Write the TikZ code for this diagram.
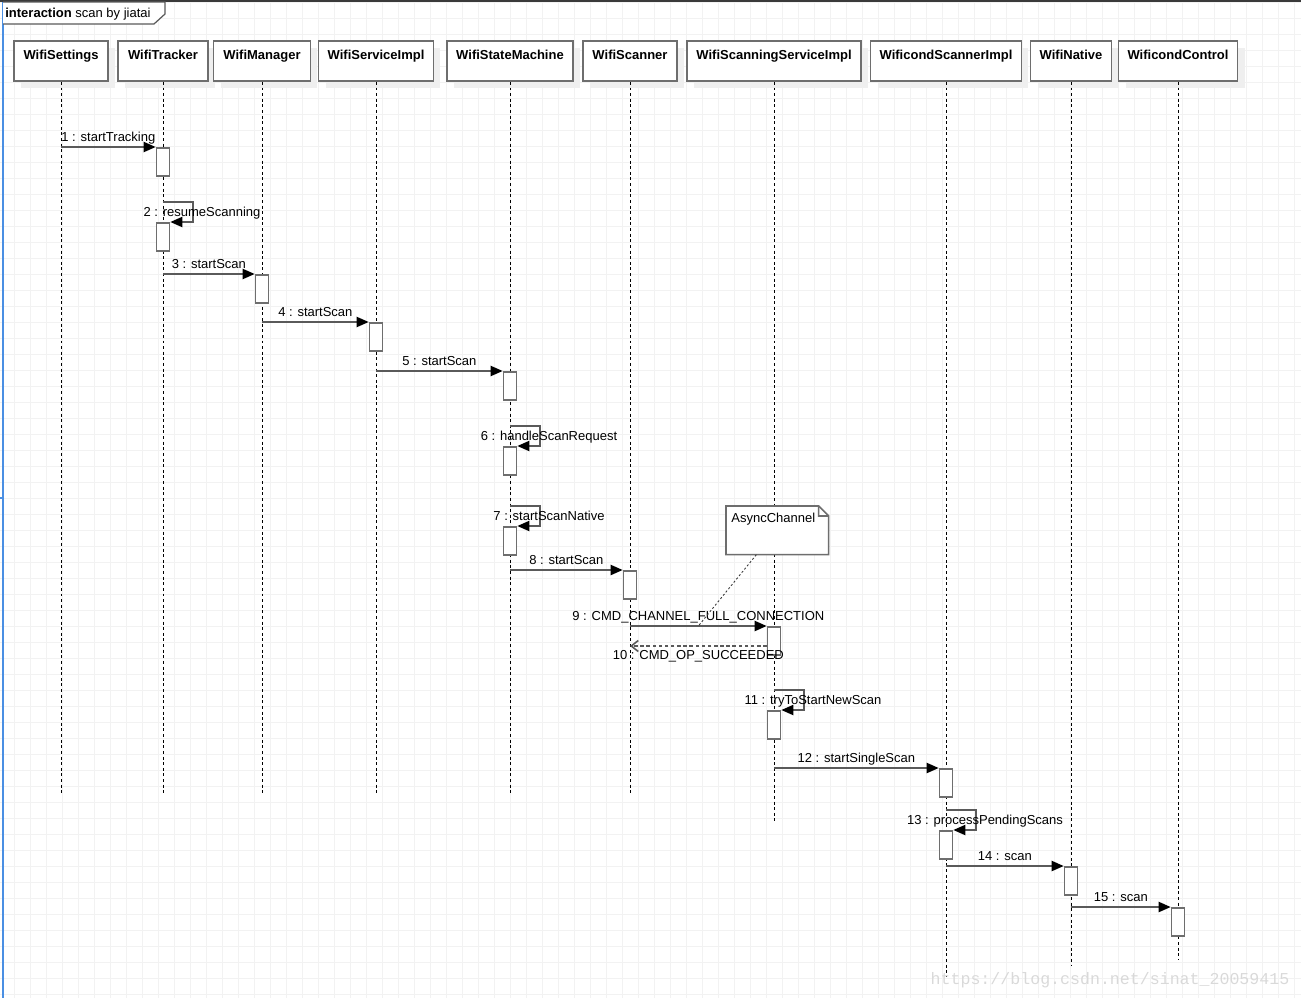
\documentclass[tikz,border=0pt]{standalone}
\usepackage{fontspec}
\setmainfont{Liberation Sans}
\newfontfamily\markfont{Liberation Mono}
\usetikzlibrary{arrows.meta, shadows}

\definecolor{gridgray}{HTML}{F2F2F2}
\definecolor{boxgray}{HTML}{6E6E6E}
\definecolor{linegray}{HTML}{5A5A5A}
\definecolor{shadegray}{HTML}{EFEFEF}
\definecolor{framedark}{HTML}{3A3A3A}
\definecolor{railblue}{HTML}{4A8FE3}
\definecolor{markgray}{HTML}{D9D9D9}

\begin{document}
\begin{tikzpicture}[
  x=0.02cm, y=-0.02cm,
  font=\fontsize{7.4}{8.9}\selectfont,
  header/.style={rectangle, draw=boxgray, fill=white, line width=1pt, inner xsep=0, inner ysep=0.09cm,
    text height=0.28cm, text depth=0.34cm, font=\fontsize{7.4}{8.9}\selectfont\bfseries,
    drop shadow={shadow xshift=0.14cm, shadow yshift=-0.14cm, draw=none, fill=shadegray, opacity=1}},
  lifeline/.style={draw=black, line width=0.55pt, dash pattern=on 1.7pt off 1.5pt},
  act/.style={rectangle, draw=boxgray, fill=white, line width=0.9pt, minimum width=0.26cm,
    minimum height=0.56cm, inner sep=0, anchor=north},
  msg/.style={draw=linegray, line width=1.1pt, -{Triangle[length=0.24cm, width=0.2cm, color=black]}},
  reply/.style={draw=linegray, line width=0.9pt, dash pattern=on 2pt off 1.5pt,
    -{Straight Barb[length=0.14cm, width=0.22cm]}},
  lbl/.style={anchor=base, inner sep=0, text=black},
  notetext/.style={anchor=north west, inner xsep=0.1cm, inner ysep=0.06cm, text width=1.84cm,
    text height=0.26cm, text depth=0.58cm, align=left},
  notebox/.style={draw=boxgray, fill=white, line width=0.9pt},
  notelink/.style={draw=framedark, line width=0.5pt, dash pattern=on 1.2pt off 1.2pt},
  gridline/.style={draw=gridgray, line width=0.5pt}
]
  \useasboundingbox (0,0) rectangle (1301,998);

  % background grid
  \foreach \gx in {14.5,30.5,...,1301} \draw[gridline] (\gx,0) -- (\gx,998);
  \foreach \gy in {2,18,...,998} \draw[gridline] (0,\gy) -- (1301,\gy);

  % frame
  \fill[framedark] (0,0) rectangle (1301,2.2);
  \draw[railblue, line width=1.2pt] (3,2) -- (3,998);
  \draw[railblue, line width=1pt] (0,498) -- (3,498);
  \draw[draw=linegray, fill=white, line width=0.7pt] (3,2) -- (165,2) -- (165,14) -- (154,24) -- (3,24);
  \node[anchor=base west, inner sep=0] (frame) at (5,17.5) {\textbf{interaction} scan by jiatai};

  % objects
  \node[header, minimum width=1.88cm] (WifiSettings) at (61,61) {WifiSettings};
  \node[header, minimum width=1.80cm] (WifiTracker) at (163,61) {WifiTracker};
  \node[header, minimum width=1.94cm] (WifiManager) at (262,61) {WifiManager};
  \node[header, minimum width=2.30cm] (WifiServiceImpl) at (376,61) {WifiServiceImpl};
  \node[header, minimum width=2.52cm] (WifiStateMachine) at (510,61) {WifiStateMachine};
  \node[header, minimum width=1.88cm] (WifiScanner) at (630,61) {WifiScanner};
  \node[header, minimum width=3.48cm] (WifiScanningServiceImpl) at (774,61) {WifiScanningServiceImpl};
  \node[header, minimum width=3.02cm] (WificondScannerImpl) at (946,61) {WificondScannerImpl};
  \node[header, minimum width=1.62cm] (WifiNative) at (1071,61) {WifiNative};
  \node[header, minimum width=2.38cm] (WificondControl) at (1178,61) {WificondControl};

  % lifelines
  \coordinate (stopA) at (0,795);
  \coordinate (stopB) at (0,822);
  \coordinate (stopC) at (0,977);
  \coordinate (stopD) at (0,966);
  \coordinate (stopE) at (0,960);
  \draw[lifeline] (WifiSettings.south) -- (WifiSettings |- stopA);
  \draw[lifeline] (WifiTracker.south) -- (WifiTracker |- stopA);
  \draw[lifeline] (WifiManager.south) -- (WifiManager |- stopA);
  \draw[lifeline] (WifiServiceImpl.south) -- (WifiServiceImpl |- stopA);
  \draw[lifeline] (WifiStateMachine.south) -- (WifiStateMachine |- stopA);
  \draw[lifeline] (WifiScanner.south) -- (WifiScanner |- stopA);
  \draw[lifeline] (WifiScanningServiceImpl.south) -- (WifiScanningServiceImpl |- stopB);
  \draw[lifeline] (WificondScannerImpl.south) -- (WificondScannerImpl |- stopC);
  \draw[lifeline] (WifiNative.south) -- (WifiNative |- stopD);
  \draw[lifeline] (WificondControl.south) -- (WificondControl |- stopE);

  % activations
  \node[act] (a1) at (WifiTracker |- 0,147) {};
  \node[act] (a2) at (WifiTracker |- 0,222) {};
  \node[act] (a3) at (WifiManager |- 0,274) {};
  \node[act] (a4) at (WifiServiceImpl |- 0,322) {};
  \node[act] (a5) at (WifiStateMachine |- 0,371) {};
  \node[act] (a6) at (WifiStateMachine |- 0,446) {};
  \node[act] (a7) at (WifiStateMachine |- 0,526) {};
  \node[act] (a8) at (WifiScanner |- 0,570) {};
  \node[act] (a9) at (WifiScanningServiceImpl |- 0,626) {};
  \node[act] (a11) at (WifiScanningServiceImpl |- 0,710) {};
  \node[act] (a12) at (WificondScannerImpl |- 0,768) {};
  \node[act] (a13) at (WificondScannerImpl |- 0,830) {};
  \node[act] (a14) at (WifiNative |- 0,866) {};
  \node[act] (a15) at (WificondControl |- 0,907) {};

  % messages
  \draw[msg] (WifiSettings |- a1.north) -- (a1.north west)
    node[midway, lbl, yshift=0.12cm] (m1) {1 : startTracking};
  \draw[msg] ([yshift=0.4cm]a2.north) -- ++(30,0) |- (a2.north east);
  \node[lbl] (m2) at ([xshift=0.78cm, yshift=0.12cm]a2.north) {2 : resumeScanning};
  \draw[msg] (WifiTracker |- a3.north) -- (a3.north west)
    node[midway, lbl, yshift=0.12cm] (m3) {3 : startScan};
  \draw[msg] (WifiManager |- a4.north) -- (a4.north west)
    node[midway, lbl, yshift=0.12cm] (m4) {4 : startScan};
  \draw[msg] (WifiServiceImpl |- a5.north) -- (a5.north west)
    node[midway, lbl, yshift=0.12cm] (m5) {5 : startScan};
  \draw[msg] ([yshift=0.4cm]a6.north) -- ++(30,0) |- (a6.north east);
  \node[lbl] (m6) at ([xshift=0.78cm, yshift=0.12cm]a6.north) {6 : handleScanRequest};
  \draw[msg] ([yshift=0.4cm]a7.north) -- ++(30,0) |- (a7.north east);
  \node[lbl] (m7) at ([xshift=0.78cm, yshift=0.12cm]a7.north) {7 : startScanNative};
  \draw[msg] (WifiStateMachine |- a8.north) -- (a8.north west)
    node[midway, lbl, yshift=0.12cm] (m8) {8 : startScan};
  \draw[msg] (WifiScanner |- a9.north) -- (a9.north west)
    node[midway, coordinate] (n9) {}
    node[midway, lbl, yshift=0.12cm] (m9) {9 : CMD\_CHANNEL\_FULL\_CONNECTION};
  \coordinate (r10) at ([yshift=-0.4cm]a9.north west);
  \draw[reply] (r10) -- (r10 -| WifiScanner)
    node[midway, lbl, yshift=-0.26cm] (m10) {10 : CMD\_OP\_SUCCEEDED};
  \draw[msg] ([yshift=0.4cm]a11.north) -- ++(30,0) |- (a11.north east);
  \node[lbl] (m11) at ([xshift=0.78cm, yshift=0.12cm]a11.north) {11 : tryToStartNewScan};
  \draw[msg] (WifiScanningServiceImpl |- a12.north) -- (a12.north west)
    node[midway, lbl, yshift=0.12cm] (m12) {12 : startSingleScan};
  \draw[msg] ([yshift=0.4cm]a13.north) -- ++(30,0) |- (a13.north east);
  \node[lbl] (m13) at ([xshift=0.78cm, yshift=0.12cm]a13.north) {13 : processPendingScans};
  \draw[msg] (WificondScannerImpl |- a14.north) -- (a14.north west)
    node[midway, lbl, yshift=0.12cm] (m14) {14 : scan};
  \draw[msg] (WifiNative |- a15.north) -- (a15.north west)
    node[midway, lbl, yshift=0.12cm] (m15) {15 : scan};

  % note
  \node[notetext] (async) at (726,506) {};
  \draw[notebox] (async.north west) -- ([xshift=-0.2cm]async.north east) -- ([yshift=-0.2cm]async.north east)
    -- (async.south east) -- (async.south west) -- cycle;
  \draw[notebox, fill=none] ([xshift=-0.2cm]async.north east) -- ++(0,10) -- ([yshift=-0.2cm]async.north east);
  \node[notetext] (asynctext) at (726,506) {AsyncChannel};
  \draw[notelink] ([xshift=-0.42cm]async.south) -- (n9);

  % watermark
  \node[anchor=base, inner sep=0, text=markgray, font=\markfont\fontsize{9.45}{11}\selectfont] (mark)
    at (1110,984) {https://blog.csdn.net/sinat\_20059415};
\end{tikzpicture}
\end{document}
